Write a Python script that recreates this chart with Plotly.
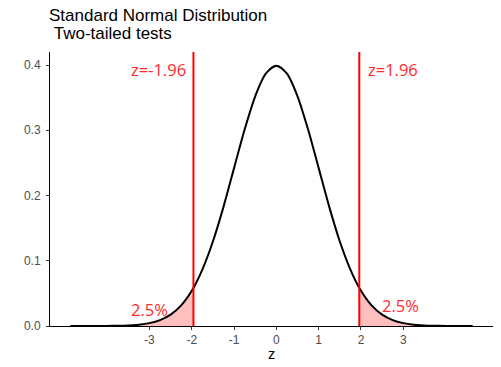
import plotly.graph_objects as go

# Density curve values (standard normal shape)
z_vals = [-4.87, -4.5, -4.25, -4.0, -3.75, -3.5, -3.25, -3.0, -2.75, -2.5, -2.25, -1.96,
          -1.75, -1.5, -1.25, -1.0, -0.75, -0.5, -0.25, 0.0, 0.25, 0.5, 0.75, 1.0,
          1.25, 1.5, 1.75, 1.96, 2.25, 2.5, 2.75, 3.0, 3.25, 3.5, 3.75, 4.0, 4.25, 4.5, 4.64]
dens_vals = [0.000003, 0.00002, 0.00005, 0.0001, 0.0004, 0.0009, 0.0020, 0.0044, 0.0091, 0.0175, 0.0317, 0.0584,
             0.0863, 0.1295, 0.1826, 0.2420, 0.3011, 0.3521, 0.3867, 0.3989, 0.3867, 0.3521, 0.3011, 0.2420,
             0.1826, 0.1295, 0.0863, 0.0584, 0.0317, 0.0175, 0.0091, 0.0044, 0.0020, 0.0009, 0.0004, 0.0001, 0.00005, 0.00002, 0.00001]

left_tail_z = [-3.6, -3.5, -3.25, -3.0, -2.75, -2.5, -2.25, -1.96]
left_tail_d = [0.0006, 0.0009, 0.0020, 0.0044, 0.0091, 0.0175, 0.0317, 0.0584]
right_tail_z = [1.96, 2.25, 2.5, 2.75, 3.0, 3.25, 3.5, 3.62]
right_tail_d = [0.0584, 0.0317, 0.0175, 0.0091, 0.0044, 0.0020, 0.0009, 0.0006]

critical = [-1.96, 1.96]
crit_labels = ["z=-1.96", "z=1.96"]
tail_labels = ["2.5%", "2.5%"]
tail_label_pos = [(-3.0, 0.025), (2.94, 0.031)]
title_lines = ["Standard Normal Distribution", "\u00a0Two-tailed tests"]

x_ticks = [-3, -2, -1, 0, 1, 2, 3]
y_ticks = [0.0, 0.1, 0.2, 0.3, 0.4]

W, H = 501, 367
LEFT, RIGHT, TOP, BOTTOM = 50, 8, 52, 41
panel_h = H - TOP - BOTTOM
panel_w = W - LEFT - RIGHT

fig = go.Figure()
fig.add_trace(go.Scatter(x=left_tail_z, y=left_tail_d, mode="lines", fill="tozeroy",
                         fillcolor="rgba(255,0,0,0.25)", line=dict(width=0, shape="spline"),
                         hoverinfo="skip", showlegend=False))
fig.add_trace(go.Scatter(x=right_tail_z, y=right_tail_d, mode="lines", fill="tozeroy",
                         fillcolor="rgba(255,0,0,0.25)", line=dict(width=0, shape="spline"),
                         hoverinfo="skip", showlegend=False))
fig.add_trace(go.Scatter(x=z_vals, y=dens_vals, mode="lines",
                         line=dict(color="black", width=2, shape="spline", smoothing=0.8),
                         showlegend=False))

for c in critical:
    fig.add_shape(type="line", x0=c, x1=c, y0=0, y1=1, xref="x", yref="paper",
                  line=dict(color="red", width=2))

red_font = dict(family="Open Sans", size=16.5, color="#FF2A2A")
fig.add_annotation(x=-2.1, y=0.393, text=crit_labels[0], showarrow=False, xanchor="right",
                   font=red_font)
fig.add_annotation(x=2.12, y=0.393, text=crit_labels[1], showarrow=False, xanchor="left",
                   font=red_font)
for (px, py), t in zip(tail_label_pos, tail_labels):
    fig.add_annotation(x=px, y=py, text=t, showarrow=False, font=red_font)

# Title (two lines, left aligned at the panel's left edge)
for line, centre in zip(title_lines, [16, 34]):
    fig.add_annotation(x=-3 / panel_w, xref="paper", xanchor="left",
                       y=1 + (TOP - centre) / panel_h, yref="paper", yanchor="middle",
                       showarrow=False, text=line,
                       font=dict(family="Liberation Sans", size=17, color="black"))
# x axis title
fig.add_annotation(x=0.5, xref="paper", y=-28 / panel_h, yref="paper",
                   yanchor="middle", showarrow=False, text="z",
                   font=dict(family="Liberation Sans", size=14.5, color="black"))

fig.update_layout(
    width=W, height=H,
    margin=dict(l=LEFT, r=RIGHT, t=TOP, b=BOTTOM, autoexpand=False),
    paper_bgcolor="white", plot_bgcolor="white",
    font=dict(family="Liberation Sans"),
)
fig.update_xaxes(range=[-5.35, 5.12], tickvals=x_ticks, ticktext=[str(v) for v in x_ticks],
                 showgrid=False, zeroline=False, showline=True, linecolor="black", linewidth=1,
                 ticks="outside", ticklen=3, tickcolor="#333333", automargin=False,
                 tickfont=dict(size=12, color="#4D4D4D"))
fig.update_yaxes(range=[0, 0.42], tickvals=y_ticks, ticktext=[f"{v:.1f}" for v in y_ticks],
                 showgrid=False, zeroline=False, showline=True, linecolor="black", linewidth=1,
                 ticks="outside", ticklen=3, tickcolor="#333333", automargin=False,
                 ticklabelstandoff=3,
                 tickfont=dict(size=12, color="#4D4D4D"))

fig.write_html("out.html", config={"displayModeBar": False},
               post_script="document.body.style.margin='0';")
